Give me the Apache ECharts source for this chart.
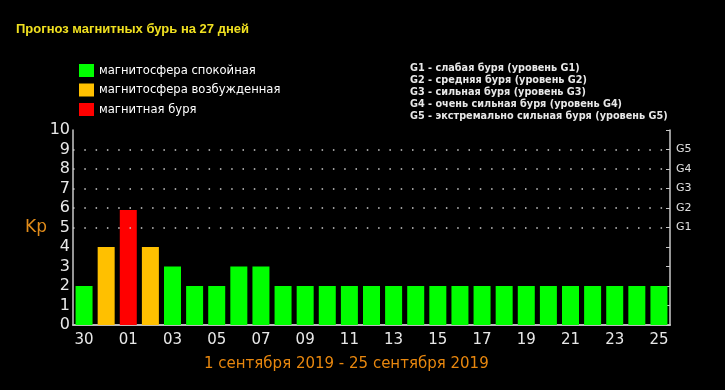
<!DOCTYPE html>
<html><head><meta charset="utf-8">
<script src="https://cdn.jsdelivr.net/npm/echarts@6/dist/echarts.min.js"></script>
<style>html,body{margin:0;padding:0;background:#000;}#c{width:725px;height:390px;}</style>
</head><body><div id="c"></div>
<script>
const categories = ['30','31','01','02','03','04','05','06','07','08','09','10','11','12','13','14','15','16','17','18','19','20','21','22','23','24','25'];
const kpValues = [2,4,5.9,4,3,2,2,3,3,2,2,2,2,2,2,2,2,2,2,2,2,2,2,2,2,2,2];
const yTickLabels = ['0','1','2','3','4','5','6','7','8','9','10'];
const gLabels = ['','','','','','G1','G2','G3','G4','G5',''];
const gridLevels = [5,6,7,8,9];
const legendNames = ['магнитосфера спокойная','магнитосфера возбужденная','магнитная буря'];
const stormText = ['G1 - слабая буря (уровень G1)','G2 - средняя буря (уровень G2)','G3 - сильная буря (уровень G3)','G4 - очень сильная буря (уровень G4)','G5 - экстремально сильная буря (уровень G5)'];
const colors = ['#00ff00','#ffc000','#ff0000'];

function level(v){ return v >= 5 ? 2 : (v >= 4 ? 1 : 0); }
const seriesData = [0,1,2].map(k => kpValues.map(v => level(v) === k ? v : '-'));

const axisColor = '#c8c8c8';
const chart = echarts.init(document.getElementById('c'));
const series = legendNames.map((name, k) => ({
  name: name, type: 'bar', data: seriesData[k], barWidth: 17, barGap: '-100%',
  itemStyle: { color: colors[k] }, xAxisIndex: 0, yAxisIndex: 0
}));
series[0].markLine = {
  silent: true, symbol: ['none','none'], label: { show: false },
  lineStyle: { color: '#cccccc', type: [1.5, 9.8], width: 1.5 },
  data: gridLevels.map(v => ({ yAxis: v }))
};
chart.setOption({
  backgroundColor: '#000',
  animation: false,
  title: [
    { text: 'Прогноз магнитных бурь на 27 дней', left: 11, top: 18,
      textStyle: { color: '#f0e020', fontSize: 13, fontWeight: 'bold', fontFamily: 'Liberation Sans' } },
    { text: '1 сентября 2019 - 25 сентября 2019', left: 199, top: 352,
      textStyle: { color: '#e8870e', fontSize: 15, fontWeight: 'normal', fontFamily: 'DejaVu Sans' } }
  ],
  legend: {
    orient: 'vertical', left: 74, top: 59, itemWidth: 15, itemHeight: 13, itemGap: 6.5,
    icon: 'rect', data: legendNames,
    textStyle: { color: '#ffffff', fontSize: 11.6, fontFamily: 'DejaVu Sans' }
  },
  graphic: [
    { type: 'text', left: 410, top: 63,
      style: { text: stormText.join('\n'), fill: '#e8e8e8', font: 'bold 9.7px "DejaVu Sans"', lineHeight: 11.8 } },
    { type: 'text', left: 25, top: 219,
      style: { text: 'Kp', fill: '#e08b1a', font: '17px "DejaVu Sans"' } }
  ],
  grid: { left: 73, right: 55, top: 130, bottom: 65 },
  xAxis: [
    { type: 'category', data: categories, position: 'bottom', boundaryGap: true,
      axisLine: { lineStyle: { color: axisColor, width: 1.5 } },
      axisTick: { inside: true, length: 4, interval: 0, lineStyle: { color: axisColor } },
      axisLabel: { interval: 1, color: '#e8e8e8', fontSize: 15, fontFamily: 'DejaVu Sans', margin: 8 } },
    { type: 'category', data: categories, position: 'top', boundaryGap: true,
      axisLine: { lineStyle: { color: axisColor, width: 1.5 } },
      axisTick: { inside: true, length: 4, interval: 0, lineStyle: { color: axisColor } },
      axisLabel: { show: false } }
  ],
  yAxis: [
    { type: 'value', min: 0, max: 10, interval: 1, position: 'left',
      axisLine: { show: true, lineStyle: { color: axisColor, width: 1.5 } },
      axisTick: { show: false }, splitLine: { show: false },
      axisLabel: { color: '#e8e8e8', fontSize: 16, fontFamily: 'DejaVu Sans', margin: 3,
        formatter: v => yTickLabels[v] } },
    { type: 'value', min: 0, max: 10, interval: 1, position: 'right',
      axisLine: { show: true, lineStyle: { color: axisColor, width: 1.5 } },
      axisTick: { show: true, inside: true, length: 4, lineStyle: { color: axisColor } },
      splitLine: { show: false },
      axisLabel: { color: '#e0e0e0', fontSize: 11, fontFamily: 'DejaVu Sans', margin: 6,
        formatter: v => gLabels[v] } }
  ],
  series: series
});
</script></body></html>
